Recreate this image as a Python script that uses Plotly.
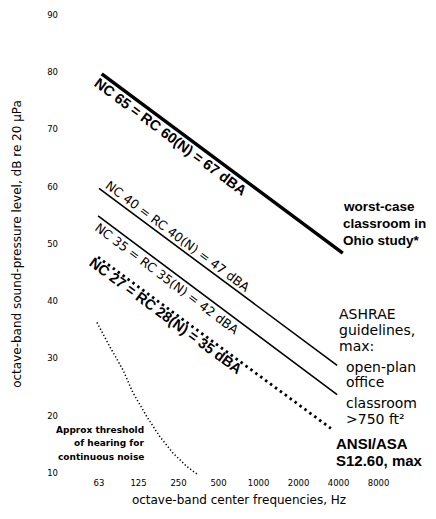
import math
import plotly.graph_objects as go

# ---- data ----
freq_ticks = [63, 125, 250, 500, 1000, 2000, 4000, 8000]
freq_labels = ["63", "125", "250", "500", "1000", "2000", "4000", "8000"]
db_ticks = [10, 20, 30, 40, 50, 60, 70, 80, 90]

# worst-case classroom (NC 65 = RC 60(N))
rc60_hz = [66, 4300]
rc60_db = [79.7, 48.4]
# ASHRAE open-plan office (NC 40 = RC 40(N))
rc40_hz = [63, 3900]
rc40_db = [59.7, 28.8]
# ASHRAE classroom > 750 ft2 (NC 35 = RC 35(N))
rc35_hz = [62, 3900]
rc35_db = [54.9, 23.7]
# ANSI/ASA S12.60 (NC 27 = RC 28(N))
rc28_hz = [62, 3500]
rc28_db = [47.7, 17.8]
# approx threshold of hearing
thr_hz = [60.8, 76.2, 95.5, 113.6, 144.7, 181.4, 226.9, 289.4, 350.4]
thr_db = [36.3, 32.0, 28.0, 24.0, 19.8, 16.3, 13.5, 11.1, 9.7]

# page body has an 8px margin: figure is drawn 8px right/down of the window corner
OFF = 8
W, H = 436 - OFF, 519 - OFF
# plot area in window pixels: left 62, right 416, top 10, bottom 476
ML, MR, MT, MB = 62 - OFF, W - (416 - OFF), 10 - OFF, H - (476 - OFF)
XR = [1.5209, 4.1846]
YR = [9.48, 90.52]
pw = W - ML - MR
ph = H - MT - MB

fig = go.Figure()


def add_line(xs, ys, width, dash=None):
    fig.add_trace(go.Scatter(
        x=xs, y=ys, mode="lines",
        line=dict(color="black", width=width, dash=dash),
        hoverinfo="skip", showlegend=False))


add_line(rc60_hz, rc60_db, 3.5)
add_line(rc40_hz, rc40_db, 1.6)
add_line(rc35_hz, rc35_db, 1.6)
add_line(rc28_hz, rc28_db, 2.8, "2.5px,3.6px")
add_line(thr_hz, thr_db, 1.5, "1.3px,2.2px")


def px(hz, db):
    x = (math.log10(hz) - XR[0]) / (XR[1] - XR[0]) * pw
    y = (db - YR[0]) / (YR[1] - YR[0]) * ph
    return x, y


def line_label(hzs, dbs, frac, text, dist, bold, size, family):
    lx0, lx1 = math.log10(hzs[0]), math.log10(hzs[1])
    lx = lx0 + frac * (lx1 - lx0)
    ly = dbs[0] + frac * (dbs[1] - dbs[0])
    x0, y0 = px(hzs[0], dbs[0])
    x1, y1 = px(hzs[1], dbs[1])
    ang = math.degrees(math.atan2(y0 - y1, x1 - x0))  # clockwise on screen
    a = math.radians(ang)
    nx, ny = -math.sin(a), -math.cos(a)  # positive dist = below the line
    fig.add_annotation(
        x=lx, y=ly, xref="x", yref="y", text=(f"<b>{text}</b>" if bold else text),
        textangle=ang, showarrow=False,
        xshift=nx * dist, yshift=ny * dist,
        font=dict(family=family, size=size, color="black"))


line_label(rc60_hz, rc60_db, 0.31, "NC 65 = RC 60(N) = 67 dBA", 9, True, 14.5, "Liberation Sans")
line_label(rc40_hz, rc40_db, 0.31, "NC 40 = RC 40(N) = 47 dBA", -9, False, 12.5, "DejaVu Sans")
line_label(rc35_hz, rc35_db, 0.31, "NC 35 = RC 35(N) = 42 dBA", 9, False, 12.5, "DejaVu Sans")
line_label(rc28_hz, rc28_db, 0.31, "NC 27 = RC 28(N) = 35 dBA", 7, True, 14.5, "Liberation Sans")


def note(text, x, y, size, bold=False, family="DejaVu Sans", anchor="left"):
    # x, y given in window pixels
    fx, fy = x - OFF, y - OFF
    fig.add_annotation(
        x=(fx - ML) / pw, y=1 - (fy - MT) / ph, xref="paper", yref="paper",
        text=(f"<b>{text}</b>" if bold else text), showarrow=False,
        xanchor=anchor, yanchor="middle",
        font=dict(family=family, size=size, color="black"))


note("worst-case", 341, 205, 13.5, True, "Liberation Sans")
note("classroom in", 341, 222, 13.5, True, "Liberation Sans")
note("Ohio study*", 341, 239, 13.5, True, "Liberation Sans")

note("ASHRAE", 337, 313, 14)
note("guidelines,", 337, 329, 14)
note("max:", 337, 345, 14)
note("open-plan", 344, 367, 14)
note("office", 344, 382, 14)
note("classroom", 344, 403, 14)
note("&gt;750 ft²", 344, 419, 14)

note("ANSI/ASA", 334, 443, 15, True, "Liberation Sans")
note("S12.60, max", 334, 460, 15, True, "Liberation Sans")

note("Approx threshold", 146, 430, 9, True, "DejaVu Sans", "right")
note("of hearing for", 146, 443, 9, True, "DejaVu Sans", "right")
note("continuous noise", 146, 457, 9, True, "DejaVu Sans", "right")

fig.update_layout(
    width=W, height=H, autosize=False,
    margin=dict(l=ML, r=MR, t=MT, b=MB),
    paper_bgcolor="white", plot_bgcolor="white",
    showlegend=False,
    xaxis=dict(
        type="log", range=XR, tickvals=freq_ticks, ticktext=freq_labels,
        showgrid=False, zeroline=False, showline=False, ticks="",
        ticklabeloverflow="allow",
        tickfont=dict(family="DejaVu Sans", size=8.5, color="black"),
        title=dict(text="octave-band center frequencies, Hz", standoff=9,
                   font=dict(family="DejaVu Sans", size=12, color="black")),
    ),
    yaxis=dict(
        range=YR, tickvals=db_ticks, ticklabelstandoff=3,
        ticklabeloverflow="allow",
        showgrid=False, zeroline=False, showline=False, ticks="",
        tickfont=dict(family="DejaVu Sans", size=8.5, color="black"),
        title=dict(text="octave-band sound-pressure level, dB re 20 µPa", standoff=22,
                   font=dict(family="DejaVu Sans", size=12, color="black")),
    ),
)

fig.write_html("out.html")
